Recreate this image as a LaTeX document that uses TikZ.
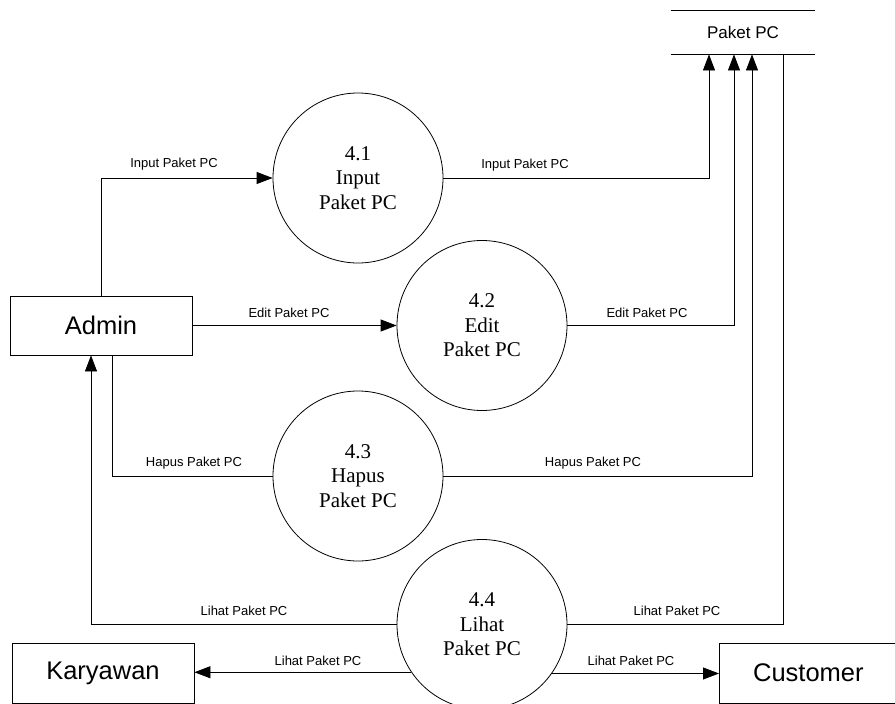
\documentclass[tikz,border=0pt]{standalone}
\usepackage{fontspec}
\setmainfont{Liberation Serif}
\setsansfont{Liberation Sans}
\usetikzlibrary{arrows.meta,calc}
\begin{document}
\begin{tikzpicture}[x=1pt,y=-1pt,
  line width=0.8pt,
  proc/.style={draw,circle,minimum size=170pt,inner sep=0pt,align=center,
    font=\fontsize{21}{24.5}\selectfont\rmfamily},
  ent/.style={draw,rectangle,inner sep=0pt,font=\fontsize{25.5}{30}\selectfont\sffamily},
  flowlbl/.style={inner sep=0pt,font=\fontsize{13}{15}\selectfont\sffamily},
  arr/.style={-{Triangle[length=16pt,width=12pt]}}]
\useasboundingbox (0,0) rectangle (895,704);

% data store
\node[minimum width=144pt,minimum height=43pt,inner sep=0pt,
  font=\fontsize{17}{20}\selectfont\sffamily] (store) at (743,32.5) {Paket PC};
\draw[line width=1.6pt] (store.north west) -- (store.north east);
\draw[line width=1.6pt] (store.south west) -- (store.south east);

% entities
\node[ent,minimum width=182pt,minimum height=59pt] (admin) at (101,325.5) {Admin};
\node[ent,minimum width=182pt,minimum height=60pt] (kary) at (103,673) {Karyawan};
\node[ent,minimum width=182pt,minimum height=60pt,anchor=west] (cust) at (719,673) {\hspace*{-4pt}Customer};

% processes
\node[proc] (c1) at (358,178) {4.1\\Input\\Paket PC};
\node[proc] (c2) at (482,325.5) {4.2\\Edit\\Paket PC};
\node[proc] (c3) at (358,476) {4.3\\Hapus\\Paket PC};
\node[proc] (c4) at (482,624.5) {4.4\\Lihat\\Paket PC};

% store access points
\coordinate (s1) at ([xshift=-34pt]store.south);
\coordinate (s2) at ([xshift=-9pt]store.south);
\coordinate (s3) at ([xshift=9pt]store.south);
\coordinate (s4) at ([xshift=40pt]store.south);

% flows
\draw[arr] (admin.north) |- (c1.west);
\draw[arr] (c1.east) -| (s1);
\draw[arr] (admin.east) -- (admin.east -| c2.west);
\draw[arr] (c2.east) -| (s2);
\draw ([xshift=11pt]admin.south) |- (c3.west);
\draw[arr] (c3.east) -| (s3);
\draw[arr] (c4.west) -| ([xshift=-10pt]admin.south);
\draw (c4.east) -| (s4);
\draw[arr] (c4.214.4) -- (c4.214.4 -| kary.east);
\draw[arr] (c4.325.6) -- (c4.325.6 -| cust.west);

% flow labels
\node[flowlbl] (l1) at (174,164.5) {Input Paket PC};
\node[flowlbl] (l2) at (525,165.5) {Input Paket PC};
\node[flowlbl] (l3) at (289,313) {Edit Paket PC};
\node[flowlbl] (l4) at (647,313) {Edit Paket PC};
\node[flowlbl] (l5) at (194,463) {Hapus Paket PC};
\node[flowlbl] (l6) at (593,463) {Hapus Paket PC};
\node[flowlbl] (l7) at (244,611) {Lihat Paket PC};
\node[flowlbl] (l8) at (677,611) {Lihat Paket PC};
\node[flowlbl] (l9) at (318,661) {Lihat Paket PC};
\node[flowlbl] (l10) at (631,661) {Lihat Paket PC};
\end{tikzpicture}
\end{document}
